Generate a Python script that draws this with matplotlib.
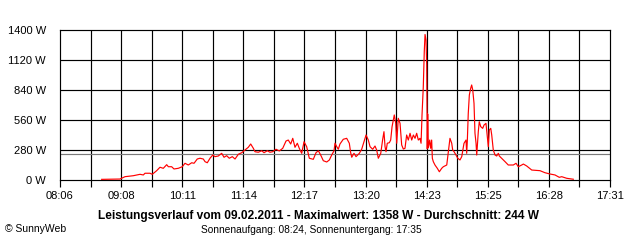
import matplotlib
matplotlib.use("Agg")
import matplotlib.pyplot as plt
import numpy as np

# time in minutes after midnight, power in W
times = [528.8, 547.6, 552.8, 561.3, 568.2, 571.6, 573.3, 578.5, 580.8, 585.3,
         588.7, 592.1, 595.6, 597.3, 600.7, 603.1, 607.5, 611.6, 614.4, 617.8,
         621.3, 623.7, 627.0, 629.8, 633.2, 635.0, 637.3, 640.1, 642.9, 645.2,
         648.6, 652.1, 654.5, 657.2, 659.9, 663.0, 665.8, 669.2, 672.7, 676.1,
         679.4, 681.9, 684.6, 686.3, 689.7, 693.2, 695.6, 699.0, 701.7, 704.5,
         707.9, 711.3, 714.8, 718.2, 720.5, 723.0, 725.1, 727.4, 729.8, 731.8,
         734.3, 736.7, 739.4, 742.1, 746.2, 749.0, 751.4, 753.8, 756.5, 760.0,
         762.7, 765.1, 767.5, 768.5, 770.3, 771.9, 773.6, 777.0, 780.5, 783.2,
         784.6, 785.7, 788.0, 790.1, 793.5, 795.9, 797.6, 800.4, 802.7, 804.5,
         807.2, 809.6, 811.3, 813.0, 815.5, 817.5, 818.8, 819.9, 820.9, 822.2,
         824.3, 825.7, 827.1, 828.4, 829.4, 830.9, 831.9, 833.5, 835.3, 837.0,
         838.7, 840.4, 842.1, 843.8, 845.6, 847.3, 849.0, 850.7, 852.4, 854.1,
         855.8, 856.9, 857.9, 859.2, 860.2, 861.0, 862.0, 862.7, 863.3, 863.7,
         864.4, 865.8, 866.8, 867.8, 868.5, 869.5, 871.2, 873.6, 875.7, 878.1,
         879.8, 883.3, 884.9, 886.6, 888.4, 889.4, 890.8, 892.8, 894.6, 896.9,
         898.7, 901.0, 903.1, 903.8, 904.4, 905.4, 906.5, 907.9, 908.9, 910.0,
         911.3, 912.3, 913.4, 914.1, 915.7, 916.7, 918.2, 920.2, 921.6, 923.6,
         925.0, 926.0, 927.0, 928.5, 929.5, 931.1, 932.9, 934.6, 936.3, 937.3,
         939.8, 943.2, 946.5, 951.7, 954.5, 956.8, 960.3, 962.0, 965.4, 970.6,
         979.1, 984.2, 989.4, 994.5, 998.9, 1001.4, 1006.5, 1013.3]
power = [6, 9, 31, 40, 53, 47, 63, 63, 53, 87,
         119, 109, 143, 124, 124, 103, 109, 124, 156, 140,
         161, 156, 196, 203, 196, 171, 161, 203, 233, 218,
         224, 249, 212, 227, 203, 218, 196, 240, 255, 280,
         305, 336, 296, 264, 259, 273, 255, 273, 259, 264,
         287, 271, 296, 364, 373, 336, 389, 305, 343, 296,
         249, 357, 311, 203, 193, 255, 273, 233, 180, 168,
         187, 233, 273, 343, 311, 287, 336, 380, 389, 343,
         255, 212, 249, 218, 249, 287, 336, 420, 373, 311,
         287, 317, 280, 203, 249, 380, 451, 311, 264, 343,
         348, 373, 497, 560, 607, 529, 343, 576, 529, 327,
         289, 296, 420, 373, 436, 373, 420, 389, 436, 373,
         389, 343, 607, 871, 1197, 1358, 1307, 1073, 290, 616,
         300, 373, 296, 373, 203, 171, 140, 109, 77, 109,
         124, 140, 264, 389, 343, 280, 264, 233, 203, 187,
         218, 342, 373, 249, 358, 622, 793, 856, 887, 840,
         716, 436, 342, 233, 451, 544, 498, 482, 513, 529,
         404, 311, 467, 482, 420, 280, 233, 224, 249, 224,
         202, 171, 140, 140, 156, 124, 140, 149, 131, 93,
         87, 68, 56, 47, 25, 31, 16, 7]

average = 244
x_start, x_end = 486, 1051
tick_labels = ["08:06", "09:08", "10:11", "11:14", "12:17",
               "13:20", "14:23", "15:25", "16:28", "17:31"]
y_ticks = [0, 280, 560, 840, 1120, 1400]
title = "Leistungsverlauf vom 09.02.2011 - Maximalwert: 1358 W - Durchschnitt: 244 W"
subtitle = "Sonnenaufgang: 08:24, Sonnenuntergang: 17:35"

plt.rcParams['font.family'] = ['Liberation Sans', 'DejaVu Sans']

fig = plt.figure(figsize=(6.4, 2.4), dpi=100)
fig.patch.set_facecolor("white")
ax = fig.add_axes([60/640, 60/240, 550/640, 150/240])

grid_x = np.linspace(x_start, x_end, 19)
for gx in grid_x[1:-1]:
    ax.axvline(gx, color="black", lw=0.85, zorder=1)
for gy in y_ticks[1:-1]:
    ax.axhline(gy, color="black", lw=0.85, zorder=1)

ax.axhline(average, color="#7a7a7a", lw=0.85, zorder=2)
ax.plot(times, power, color="#ff0000", lw=0.85, zorder=3)

ax.set_xlim(x_start, x_end)
ax.set_ylim(0, 1400)
ax.set_xticks(grid_x)
ax.set_xticklabels([tick_labels[i // 2] if i % 2 == 0 else "" for i in range(19)], fontsize=8)
ax.set_yticks(y_ticks)
ax.set_yticklabels([f"{v} W" for v in y_ticks], fontsize=8)
ax.tick_params(axis="x", length=5, width=0.85, color="black", pad=3)
ax.tick_params(axis="y", length=0, pad=10)
for s in ax.spines.values():
    s.set_linewidth(0.85)
    s.set_color("black")

fig.text(319/640, 1 - 216/240, title, ha="center", va="center", fontsize=8.6, fontweight="bold")
fig.text(311/640, 1 - 230/240, subtitle, ha="center", va="center", fontsize=7.3)
fig.text(5/640, 1 - 229/240, "© SunnyWeb", ha="left", va="center", fontsize=7.5)

fig.savefig("out.png", dpi=100, facecolor="white")
